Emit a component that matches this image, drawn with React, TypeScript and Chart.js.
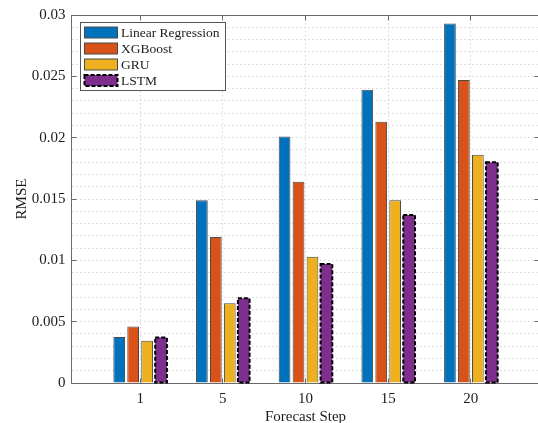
import React, { useEffect, useRef } from 'react';
import { Chart, registerables } from 'chart.js';

Chart.register(...registerables);

// Forecast horizons (category labels on the x axis)
const steps = ['1', '5', '10', '15', '20'];

// RMSE per model at each forecast step
const linearRegression = [0.00375, 0.0149, 0.0201, 0.0239, 0.0293];
const xgboost = [0.0046, 0.0119, 0.0164, 0.0213, 0.0247];
const gru = [0.00345, 0.0065, 0.0103, 0.0149, 0.0186];
const lstm = [0.0037, 0.0069, 0.0097, 0.0137, 0.0180];

const seriesNames = ['Linear Regression', 'XGBoost', 'GRU', 'LSTM'];
const seriesColors = ['#0072BD', '#D95319', '#EDB120', '#7E2F8E'];

// Labelled y ticks and the finer grid between them
const yTickValues = [0, 0.005, 0.01, 0.015, 0.02, 0.025, 0.03];
const yMinorStep = 0.001;

const FONT = "'Liberation Serif', 'Times New Roman', serif";
const TEXT = '#1c1c1c';
const AXIS = '#6a6a6a';

const align = (v: number) => Math.round(v - 0.5) + 0.5;

// Box around the plot plus inward tick marks on all four sides
const axesBox = {
  id: 'axesBox',
  beforeDatasetsDraw(chart: any) {
    const { ctx, chartArea, scales } = chart;
    const l = align(chartArea.left);
    const r = align(chartArea.right);
    const t = align(chartArea.top);
    const b = align(chartArea.bottom);
    ctx.save();
    ctx.strokeStyle = AXIS;
    ctx.lineWidth = 1;
    ctx.setLineDash([]);
    ctx.strokeRect(l, t, r - l, b - t);
    ctx.beginPath();
    yTickValues.forEach((v) => {
      const py = align(scales.y.getPixelForValue(v));
      ctx.moveTo(l, py);
      ctx.lineTo(l + 5, py);
      ctx.moveTo(r, py);
      ctx.lineTo(r - 5, py);
    });
    steps.forEach((_, i) => {
      const px = align(scales.x.getPixelForValue(i + 1));
      ctx.moveTo(px, t);
      ctx.lineTo(px, t + 5);
      ctx.moveTo(px, b);
      ctx.lineTo(px, b - 5);
    });
    ctx.stroke();
    ctx.restore();
  },
};

// Dashed black outline for datasets flagged with dashedEdge
const dashedEdges = {
  id: 'dashedEdges',
  afterDatasetsDraw(chart: any) {
    const { ctx } = chart;
    chart.data.datasets.forEach((ds: any, di: number) => {
      if (!ds.dashedEdge) return;
      const meta = chart.getDatasetMeta(di);
      ctx.save();
      ctx.strokeStyle = '#000000';
      ctx.lineWidth = 2;
      ctx.setLineDash([4, 2]);
      meta.data.forEach((bar: any) => {
        const { x, y, base, width } = bar.getProps(['x', 'y', 'base', 'width'], true);
        ctx.strokeRect(x - width / 2, y, width, base - y);
      });
      ctx.restore();
    });
  },
};

// Legend box in the upper-left corner of the plot
const insideLegend = {
  id: 'insideLegend',
  afterDraw(chart: any) {
    const { ctx, chartArea } = chart;
    const items = chart.data.datasets;
    ctx.save();
    ctx.font = `13.5px ${FONT}`;
    const textW = Math.max(...items.map((d: any) => ctx.measureText(d.label).width));
    const x0 = align(chartArea.left + 8.5);
    const y0 = align(chartArea.top + 7.5);
    const rowH = 16;
    const swW = 33;
    const swH = 11;
    const w = Math.round(4 + swW + 3.5 + textW + 6);
    const h = 10 + rowH * (items.length - 1) + 10;
    ctx.fillStyle = '#ffffff';
    ctx.fillRect(x0, y0, w, h);
    ctx.strokeStyle = '#555555';
    ctx.lineWidth = 1;
    ctx.strokeRect(x0, y0, w, h);
    items.forEach((d: any, i: number) => {
      const cy = y0 + 10 + i * rowH;
      const sx = x0 + 4;
      const sy = Math.round(cy - swH / 2);
      ctx.fillStyle = d.backgroundColor;
      ctx.fillRect(sx, sy, swW, swH);
      if (d.dashedEdge) {
        ctx.strokeStyle = '#000000';
        ctx.lineWidth = 2;
        ctx.setLineDash([4, 2]);
      } else {
        ctx.strokeStyle = '#4a4a4a';
        ctx.lineWidth = 1;
        ctx.setLineDash([]);
      }
      ctx.strokeRect(sx, sy, swW, swH);
      ctx.setLineDash([]);
      ctx.fillStyle = TEXT;
      ctx.textAlign = 'left';
      ctx.textBaseline = 'middle';
      ctx.fillText(d.label, sx + swW + 3.5, cy + 0.5);
    });
    ctx.restore();
  },
};

const isMajor = (v: number) => Math.abs(v / 0.005 - Math.round(v / 0.005)) < 1e-6;

export default function App() {
  const canvasRef = useRef<HTMLCanvasElement | null>(null);

  useEffect(() => {
    if (!canvasRef.current) return;
    const seriesValues = [linearRegression, xgboost, gru, lstm];
    const datasets = seriesNames.map((name, si) => ({
      label: name,
      data: seriesValues[si].map((v, i) => ({ x: i + 1, y: v })),
      backgroundColor: seriesColors[si],
      borderColor: '#4a4a4a',
      borderWidth: si === 3 ? 0 : 1,
      dashedEdge: si === 3,
      categoryPercentage: 0.675,
      barPercentage: 0.84,
    }));

    const chart = new Chart(canvasRef.current, {
      type: 'bar',
      data: { datasets } as any,
      options: {
        animation: false,
        responsive: false,
        devicePixelRatio: 1,
        layout: { padding: { left: 0, right: 0.5, top: 15, bottom: 0 } },
        plugins: {
          legend: { display: false },
          tooltip: { enabled: false },
        },
        scales: {
          x: {
            type: 'linear',
            min: 0.17,
            max: 5.83,
            offset: false,
            afterBuildTicks: (scale: any) => {
              scale.ticks = steps.map((_, i) => ({ value: i + 1 }));
            },
            afterFit: (scale: any) => {
              scale.height = 40;
            },
            ticks: {
              autoSkip: false,
              maxRotation: 0,
              padding: 7,
              color: TEXT,
              font: { family: FONT, size: 15 },
              callback: (v: any) => steps[Math.round(v) - 1] ?? '',
            },
            grid: { offset: false, drawTicks: false, color: '#d6d6d6', lineWidth: 1 },
            border: { display: false, dash: [1.5, 2.5] },
            title: {
              display: true,
              text: 'Forecast Step',
              color: TEXT,
              font: { family: FONT, size: 15, lineHeight: 0.85 },
              padding: { top: 0, bottom: 0 },
            },
          },
          y: {
            min: 0,
            max: 0.03,
            afterBuildTicks: (scale: any) => {
              const n = Math.round(0.03 / yMinorStep);
              scale.ticks = Array.from({ length: n + 1 }, (_, i) => ({ value: i * yMinorStep }));
            },
            afterFit: (scale: any) => {
              scale.width = 71.5;
            },
            ticks: {
              autoSkip: false,
              padding: 6,
              color: TEXT,
              font: { family: FONT, size: 15 },
              callback: (v: any) => (isMajor(v) ? String(Number(Number(v).toFixed(3))) : ''),
            },
            grid: { drawTicks: false, color: '#d6d6d6', lineWidth: 1 },
            border: { display: false, dash: [1.5, 2.5] },
            title: {
              display: true,
              text: 'RMSE',
              color: TEXT,
              font: { family: FONT, size: 15, lineHeight: 1 },
              padding: { top: 14.5, bottom: 0 },
            },
          },
        },
      } as any,
      plugins: [axesBox, dashedEdges, insideLegend],
    });

    return () => chart.destroy();
  }, []);

  return (
    <div
      style={{
        position: 'absolute',
        left: 0,
        top: 0,
        width: 538,
        height: 423,
        overflow: 'hidden',
        background: '#ffffff',
      }}
    >
      <canvas ref={canvasRef} width={540} height={423} style={{ display: 'block' }} />
    </div>
  );
}
